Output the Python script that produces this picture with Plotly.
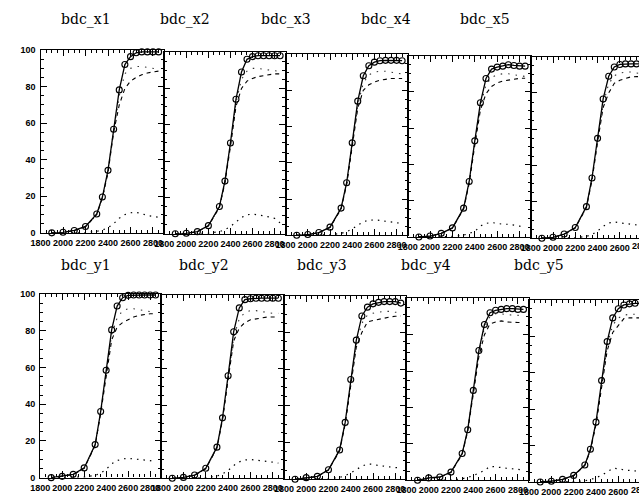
import plotly.graph_objects as go

W, H = 639, 499

# ---------------- data ----------------
energy = [1900, 2000, 2100, 2200, 2300, 2350, 2400, 2450, 2500, 2550, 2600, 2650, 2700, 2750, 2800, 2850]
x_ticks = [1800, 2000, 2200, 2400, 2600, 2800]
y_ticks = [0, 20, 40, 60, 80, 100]
titles_top = ["bdc_x1", "bdc_x2", "bdc_x3", "bdc_x4", "bdc_x5"]
titles_bot = ["bdc_y1", "bdc_y2", "bdc_y3", "bdc_y4", "bdc_y5"]

x1_total = [0, 0.3, 1.3, 3.5, 10.3, 19.6, 34.2, 56.7, 78.2, 92.1, 96.4, 98.5, 99, 99, 99, 99]
x1_dash  = [0, 0.3, 1.2, 3.3, 10, 19, 33, 55, 70, 79, 83, 85, 86.5, 87.5, 88, 88.5]
x1_dot   = [0, 0.3, 1.2, 3.4, 10, 19.3, 33.5, 56, 75, 87, 90, 91, 91, 90.5, 90, 89.5]
x1_low   = [0, 0, 0, 0.2, 0.8, 1.5, 2.8, 5, 8, 10, 11, 11.2, 10.5, 9.5, 9, 8.5]

x2_total = [0, 0.3, 1.2, 4.5, 15, 29, 50, 74, 89, 96, 97.5, 98, 98, 98, 98, 98]
x2_dash  = [0, 0.3, 1.1, 4.3, 14.5, 28, 48, 70, 80, 84, 85.5, 86.5, 87, 87.5, 88, 88]
x2_dot   = [0, 0.3, 1.1, 4.4, 14.8, 28.5, 49, 72, 85, 89.5, 91, 91, 90.5, 90, 89.5, 89.3]
x2_low   = [0, 0, 0, 0.3, 1.2, 2.3, 4, 6.5, 9, 10.5, 10.8, 10.5, 10, 9.3, 8.5, 6]

x3_total = [0, 0.4, 1.5, 4.5, 15, 29, 51, 74, 88, 93.5, 95.5, 96.3, 96.5, 96.5, 96.5, 96.3]
x3_dash  = [0, 0.4, 1.4, 4.3, 14.5, 28, 49, 70, 80, 83, 84.5, 85.5, 86, 86.5, 86.5, 86.5]
x3_dot   = [0, 0.4, 1.4, 4.4, 14.8, 28.5, 50, 72, 84, 88.5, 90, 90.5, 90.5, 90, 89.5, 89]
x3_low   = [0, 0, 0, 0.3, 1, 2, 3.5, 5.5, 7.5, 8.3, 8.5, 8.2, 7.8, 7.5, 7, 6.5]

x4_total = [0, 0.5, 2, 5, 15.9, 30.6, 53, 74, 87.4, 92.6, 93.7, 94.2, 95, 94.6, 94.2, 94.2]
x4_dash  = [0, 0.5, 1.9, 4.9, 15.3, 29.5, 50.5, 70, 79, 83, 85, 86, 86.5, 87, 87.5, 87.5]
x4_dot   = [0, 0.5, 2, 5, 15.5, 30, 52, 72, 84, 88, 89.5, 90, 90, 89.5, 89, 88.5]
x4_low   = [0, 0, 0, 0.3, 1, 2, 3, 6, 7.5, 8, 7.5, 7, 7, 6.5, 6, 5]

x5_total = [0, 0.5, 2.3, 5.9, 17.4, 33.2, 55, 76.7, 89.2, 94.3, 95.7, 96, 96, 96, 96, 96]
x5_dash  = [0, 0.5, 2.2, 5.6, 16.8, 32, 53, 72, 80, 85.3, 87, 88, 88.9, 89, 89, 89]
x5_dot   = [0, 0.5, 2.2, 5.8, 17, 32.5, 54, 74, 85, 89.5, 91, 91.5, 91.5, 91, 90.5, 90]
x5_low   = [0, 0, 0, 0.3, 1, 2, 4, 6.5, 8.4, 9, 8.5, 8, 7.5, 7, 6.8, 6.5]

y1_total = [0, 0.7, 1.8, 5.3, 18, 36, 58.5, 80.5, 93.5, 98, 99.3, 99.5, 99.5, 99.5, 99.5, 99.5]
y1_dash  = [0, 0.7, 1.7, 5, 17.5, 35, 56, 75, 82, 84.5, 86, 87.5, 88.4, 89, 89.3, 89.3]
y1_dot   = [0, 0.7, 1.7, 5.1, 17.7, 35.5, 57, 78, 87, 91, 92, 92, 91.5, 91, 90.5, 90]
y1_low   = [0, 0, 0, 0.3, 1.2, 2.5, 4.5, 7.5, 9.3, 10.2, 10.5, 10.3, 10.1, 9.5, 9.3, 8.4]

y2_total = [0, 0.5, 1.8, 5.5, 17, 33, 56, 80, 93, 97.5, 98, 98.3, 98.3, 98.3, 98.3, 98.3]
y2_dash  = [0, 0.5, 1.7, 5.2, 16.5, 32, 54, 75, 82, 85, 86.5, 87, 87.5, 88, 88, 88]
y2_dot   = [0, 0.5, 1.7, 5.3, 16.8, 32.5, 55, 77, 87, 90.5, 91.5, 91.5, 91, 90.5, 90, 90]
y2_low   = [0, 0, 0, 0.3, 1.2, 2.4, 4.3, 7, 9, 10, 10.3, 10, 9.6, 9.2, 8.8, 8.3]

y3_total = [0, 0.9, 1.6, 5.2, 16, 31, 54.4, 75.8, 89, 93.8, 95.6, 96.4, 96.8, 96.8, 96.8, 96]
y3_dash  = [0, 0.9, 1.5, 5, 15.5, 30, 52, 72, 80, 85.8, 86.5, 87.2, 87.8, 88.4, 88.8, 89]
y3_dot   = [0, 0.9, 1.5, 5.1, 15.8, 30.5, 53, 74, 85, 89.5, 90.5, 91, 91.5, 91.5, 91, 91]
y3_low   = [0, 0, 0, 0.3, 1, 2, 3.5, 5.5, 7.1, 8.4, 8.2, 7.5, 7, 6.6, 6.4, 6.2]

y4_total = [0, 1.3, 1.8, 4.5, 14.7, 27.8, 49.4, 71.3, 85.6, 92.1, 93.4, 93.9, 94.3, 94.3, 93.9, 93.9]
y4_dash  = [0, 1.2, 1.7, 4.3, 14.2, 27, 47.5, 68, 80, 86, 87, 87.6, 87, 86.7, 86.7, 86.7]
y4_dot   = [0, 1.2, 1.7, 4.4, 14.5, 27.5, 48.5, 70, 84, 90, 91.5, 91.5, 91, 90.7, 90.5, 90.5]
y4_low   = [0, 0, 0, 0.2, 0.8, 1.5, 2.5, 4, 5.4, 7.7, 7.5, 7, 6.6, 6.2, 6, 5.7]

y5_total = [0, 0.4, 1.4, 3.6, 9.3, 17.9, 32.8, 55.6, 77, 90, 95, 97.1, 97.7, 98, 98, 98]
y5_dash  = [0, 0.4, 1.3, 3.4, 9, 17.3, 31.5, 53, 72, 82, 86, 89.6, 90, 90, 90, 90]
y5_dot   = [0, 0.4, 1.3, 3.5, 9.1, 17.6, 32, 54, 75, 86, 90, 91.5, 92, 92, 91.5, 91.5]
y5_low   = [0, 0, 0, 0.2, 0.6, 1.2, 2.2, 3.8, 5.4, 7.5, 7.3, 6.6, 6.2, 6, 5.8, 5.5]

# ---------------- layout geometry (pixels) ----------------
top_lefts = [31, 156.7, 280, 404, 529]
top_rights = [156.7, 280, 404, 529, 653.5]
top_tops = [46, 48, 50, 51.7, 52.7]
top_bots = [232.5, 233.5, 235, 236.7, 238]
bot_lefts = [30.7, 153.5, 278.3, 402.7, 527.3]
bot_rights = [153.5, 278.3, 402.7, 527.3, 652]
bot_tops = [295, 296, 296.7, 299.3, 300.7]
bot_bots = [482.3, 483, 484, 485, 486.7]
top_title_x = [77, 178, 280, 382, 483]
bot_title_x = [77, 197, 317, 423, 537]
top_title_y = 15
bot_title_y = 266

panels = [
    (x1_total, x1_dash, x1_dot, x1_low), (x2_total, x2_dash, x2_dot, x2_low),
    (x3_total, x3_dash, x3_dot, x3_low), (x4_total, x4_dash, x4_dot, x4_low),
    (x5_total, x5_dash, x5_dot, x5_low),
    (y1_total, y1_dash, y1_dot, y1_low), (y2_total, y2_dash, y2_dot, y2_low),
    (y3_total, y3_dash, y3_dot, y3_low), (y4_total, y4_dash, y4_dot, y4_low),
    (y5_total, y5_dash, y5_dot, y5_low),
]

XMIN, XMAX = 1800, 2900
fig = go.Figure()
tickfont = dict(family="Liberation Sans", size=9, color="black", weight="bold")
titlefont = dict(family="DejaVu Serif", size=14, color="black")
layout = {}
annotations = []

for i, (tot, dsh, dot, low) in enumerate(panels):
    row = i // 5
    col = i % 5
    if row == 0:
        L, R, T, B = top_lefts[col], top_rights[col], top_tops[col], top_bots[col]
    else:
        L, R, T, B = bot_lefts[col], bot_rights[col], bot_tops[col], bot_bots[col]
    R_full = R
    xmax = XMAX
    clipped = R > W
    if clipped:
        xmax = XMIN + (W - L) / (R - L) * (XMAX - XMIN)
        R = W
    n = i + 1
    xa = "x" if n == 1 else f"x{n}"
    ya = "y" if n == 1 else f"y{n}"
    common = dict(ticks="inside", showline=True, linecolor="black", linewidth=1.3,
                  tickcolor="black", tickwidth=1, showgrid=False, zeroline=False,
                  tickfont=tickfont, fixedrange=True, tickangle=0)
    layout[f"xaxis{n}"] = dict(
        domain=[L / W, R / W], anchor=ya, range=[XMIN, xmax],
        tickmode="array", tickvals=x_ticks, ticktext=[str(v) for v in x_ticks],
        ticklen=6, mirror="allticks",
        minor=dict(ticks="inside", dtick=50, tick0=1800, ticklen=3, tickcolor="black", tickwidth=1),
        ticklabelstandoff=1, **common)
    layout[f"yaxis{n}"] = dict(
        domain=[1 - B / H, 1 - T / H], anchor=xa, range=[0, 100],
        tickmode="array", tickvals=y_ticks, ticktext=[str(v) for v in y_ticks],
        ticklen=6, mirror=False if clipped else "allticks",
        showticklabels=(col == 0),
        minor=dict(ticks="inside", dtick=5, tick0=0, ticklen=3, tickcolor="black", tickwidth=1),
        ticklabelstandoff=2, **common)
    if clipped:
        # the last panel runs off the page: keep its cut-off last label
        frac = (2800 - XMIN) / (XMAX - XMIN)
        px = L + frac * (R_full - L)
        annotations.append(dict(x=px / W, y=1 - (B + 1) / H, xref="paper", yref="paper",
                                text="2800", showarrow=False, xanchor="center", yanchor="top",
                                font=tickfont))
    fig.add_trace(go.Scatter(x=energy, y=low, xaxis=xa, yaxis=ya, mode="lines",
                             line=dict(color="black", width=1.2, dash="1.5px,5px"),
                             showlegend=False, hoverinfo="skip"))
    fig.add_trace(go.Scatter(x=energy, y=dot, xaxis=xa, yaxis=ya, mode="lines",
                             line=dict(color="#333333", width=1.1, dash="1.5px,6px"),
                             showlegend=False, hoverinfo="skip"))
    fig.add_trace(go.Scatter(x=energy, y=dsh, xaxis=xa, yaxis=ya, mode="lines",
                             line=dict(color="black", width=1.1, dash="4px,4px"),
                             showlegend=False, hoverinfo="skip"))
    fig.add_trace(go.Scatter(x=energy, y=tot, xaxis=xa, yaxis=ya, mode="lines+markers",
                             line=dict(color="black", width=1.3),
                             marker=dict(symbol="circle-open", size=6, color="black",
                                         line=dict(width=1.1, color="black")),
                             showlegend=False, hoverinfo="skip", cliponaxis=False))

for k in range(5):
    annotations.append(dict(x=top_title_x[k] / W, y=1 - top_title_y / H, xref="paper", yref="paper",
                            text=titles_top[k], showarrow=False, xanchor="center", yanchor="middle",
                            font=titlefont))
    annotations.append(dict(x=bot_title_x[k] / W, y=1 - bot_title_y / H, xref="paper", yref="paper",
                            text=titles_bot[k], showarrow=False, xanchor="center", yanchor="middle",
                            font=titlefont))

fig.update_layout(width=W, height=H, margin=dict(l=0, r=0, t=0, b=0),
                  paper_bgcolor="white", plot_bgcolor="white",
                  annotations=annotations, showlegend=False, **layout)

fig.write_html("out.html", config={"displayModeBar": False},
               post_script="document.body.style.margin='0';document.body.style.overflow='hidden';")
